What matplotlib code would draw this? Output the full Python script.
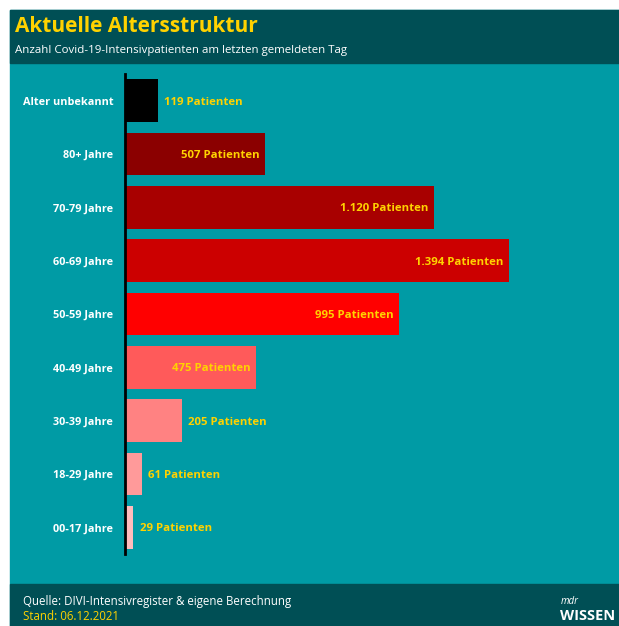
import matplotlib.pyplot as plt
from matplotlib.patches import Rectangle

plt.rcParams['font.family'] = ['Open Sans', 'DejaVu Sans']

# data
groups = ['Alter unbekannt', '80+ Jahre', '70-79 Jahre', '60-69 Jahre', '50-59 Jahre',
          '40-49 Jahre', '30-39 Jahre', '18-29 Jahre', '00-17 Jahre']
patients = [119, 507, 1120, 1394, 995, 475, 205, 61, 29]
labels = ['119 Patienten', '507 Patienten', '1.120 Patienten', '1.394 Patienten',
          '995 Patienten', '475 Patienten', '205 Patienten', '61 Patienten', '29 Patienten']
inside = [False, True, True, True, True, True, False, False, False]
colors = ['#000000', '#8b0000', '#a80000', '#cc0000', '#ff0000',
          '#ff5a5a', '#ff8282', '#ff9a9a', '#ffbcbc']

W, H = 619, 626
fig = plt.figure(figsize=(W / 100, H / 100), dpi=100)
fig.patch.set_facecolor('white')

def fx(px):
    return px / W

def fy(py):
    return 1 - py / H

teal = '#009ba5'
dark = '#004f55'
yellow = '#ffd200'

# background panels
for top, bot, c in [(10, 626, teal), (10, 63, dark), (584, 626, dark)]:
    fig.patches.append(Rectangle((fx(10), fy(bot)), 1, fy(top) - fy(bot),
                                 transform=fig.transFigure, color=c, zorder=-10))

fig.text(fx(15), fy(27), 'Aktuelle Altersstruktur', color=yellow, fontsize=15,
         fontweight='bold', va='center', ha='left')
fig.text(fx(15), fy(51), 'Anzahl Covid-19-Intensivpatienten am letzten gemeldeten Tag',
         color='white', fontsize=8.25, va='center', ha='left')
fig.text(fx(23), fy(602), 'Quelle: DIVI-Intensivregister & eigene Berechnung',
         color='white', fontsize=8.3, va='center', ha='left')
fig.text(fx(23), fy(617), 'Stand: 06.12.2021', color=yellow, fontsize=8.3,
         va='center', ha='left')
fig.text(fx(561), fy(601), 'mdr', color='white', fontsize=7, style='italic',
         va='center', ha='left')
fig.text(fx(560), fy(616), 'WISSEN', color='white', fontsize=10.5, fontweight='bold',
         va='center', ha='left')

# bar axes
ax = fig.add_axes([fx(125), fy(554), fx(615) - fx(125), fy(74) - fy(554)])
ax.patch.set_alpha(0)
ypos = list(range(len(groups)))
ax.barh(ypos, patients, height=0.8, color=colors, edgecolor='none')
ax.set_xlim(0, 490 / 0.2757)
ax.set_ylim(len(groups) - 0.5, -0.5)
ax.set_yticks(ypos)
ax.set_yticklabels(groups, color='white', fontsize=7.8, fontweight='bold')
ax.tick_params(axis='y', length=0, pad=8.5)
ax.set_xticks([])
for s in ['top', 'right', 'bottom']:
    ax.spines[s].set_visible(False)
ax.spines['left'].set_linewidth(2)
ax.spines['left'].set_color('black')

for y, v, lab, ins in zip(ypos, patients, labels, inside):
    if ins:
        ax.text(v - 20, y, lab, color=yellow, fontsize=8.2, fontweight='bold',
                ha='right', va='center_baseline')
    else:
        ax.text(v + 24, y, lab, color=yellow, fontsize=8.2, fontweight='bold',
                ha='left', va='center_baseline')

fig.savefig('out.png', dpi=100, facecolor='white')
